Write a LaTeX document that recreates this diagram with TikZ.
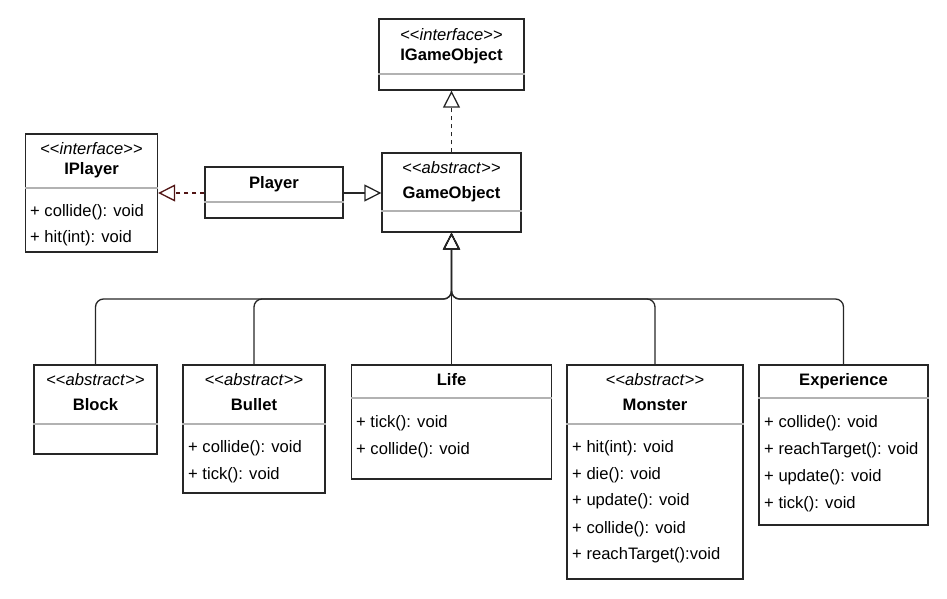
\documentclass[tikz,border=0pt]{standalone}
\usepackage{fontspec}
\setmainfont{Liberation Sans}
\usetikzlibrary{arrows.meta}
\newcommand\sttype[1]{<\kern0pt<\textit{#1}>\kern0pt>}
\definecolor{realcol}{RGB}{80,20,20}
\tikzset{
  cls/.style={draw=black!85, line width=1.3pt, inner sep=0pt},
  sep/.style={draw=black!30, line width=1.3pt},
  txt/.style={inner sep=0pt, yshift=-2pt, font=\fontsize{16.6}{20}\selectfont, text height=12pt, text depth=3.5pt},
  mem/.style={txt, anchor=west},
  cname/.style={txt, font=\fontsize{16.6}{20}\selectfont\bfseries},
  inherit/.style={draw=black!85, line width=1.3pt, -{Triangle[open, length=17pt, width=17pt]}},
  realize/.style={inherit, dashed, dash pattern=on 4pt off 4pt},
}
\begin{document}
\begin{tikzpicture}[x=1pt, y=-1pt]
   \useasboundingbox (0,0) rectangle (947,599);
   % top: interfaces and base class
   \node[cls, minimum width=145pt, minimum height=71pt] (igo) at (451.5,54.5) {};
   \draw[sep] (igo.west |- 0,74) -- (igo.east |- 0,74);
   \node[txt] (igo-st) at (451.5,34) {\sttype{interface}};
   \node[cname] (igo-n) at (451.5,54) {IGameObject};

   \node[cls, minimum width=132pt, minimum height=118pt] (iplayer) at (91.5,193) {};
   \draw[sep] (iplayer.west |- 0,188) -- (iplayer.east |- 0,188);
   \node[txt] (iplayer-st) at (91.5,148) {\sttype{interface}};
   \node[cname] (iplayer-n) at (91.5,168) {IPlayer};
   \node[mem] (iplayer-m1) at (30,210) {+ collide(): void};
   \node[mem] (iplayer-m2) at (30,236) {+ hit(int): void};

   \node[cls, minimum width=138pt, minimum height=51pt] (player) at (274,192.5) {};
   \draw[sep] (player.west |- 0,202) -- (player.east |- 0,202);
   \node[cname] (player-n) at (274,182) {Player};

   \node[cls, minimum width=139pt, minimum height=79pt] (go) at (451.5,192.5) {};
   \draw[sep] (go.west |- 0,211) -- (go.east |- 0,211);
   \node[txt] (go-st) at (451.5,167) {\sttype{abstract}};
   \node[cname] (go-n) at (451.5,192) {GameObject};

   % bottom: subclasses
   \node[cls, minimum width=123pt, minimum height=89pt] (block) at (95.5,409.5) {};
   \draw[sep] (block.west |- 0,424) -- (block.east |- 0,424);
   \node[txt] (block-st) at (95.5,379) {\sttype{abstract}};
   \node[cname] (block-n) at (95.5,404) {Block};

   \node[cls, minimum width=142pt, minimum height=128pt] (bullet) at (254,429) {};
   \draw[sep] (bullet.west |- 0,424) -- (bullet.east |- 0,424);
   \node[txt] (bullet-st) at (254,379) {\sttype{abstract}};
   \node[cname] (bullet-n) at (254,404) {Bullet};
   \node[mem] (bullet-m1) at (188,446) {+ collide(): void};
   \node[mem] (bullet-m2) at (188,473) {+ tick(): void};

   \node[cls, minimum width=200pt, minimum height=114pt] (life) at (451.5,422) {};
   \draw[sep] (life.west |- 0,398) -- (life.east |- 0,398);
   \node[cname] (life-n) at (451.5,379) {Life};
   \node[mem] (life-m1) at (356,421) {+ tick(): void};
   \node[mem] (life-m2) at (356,448) {+ collide(): void};

   \node[cls, minimum width=176pt, minimum height=214pt] (monster) at (655,472) {};
   \draw[sep] (monster.west |- 0,424) -- (monster.east |- 0,424);
   \node[txt] (monster-st) at (655,379) {\sttype{abstract}};
   \node[cname] (monster-n) at (655,404) {Monster};
   \node[mem] (monster-m1) at (572,446) {+ hit(int): void};
   \node[mem] (monster-m2) at (572,473) {+ die(): void};
   \node[mem] (monster-m3) at (572,499) {+ update(): void};
   \node[mem] (monster-m4) at (572,527) {+ collide(): void};
   \node[mem] (monster-m5) at (572,553) {+ reachTarget():void};

   \node[cls, minimum width=169pt, minimum height=160pt] (exp) at (843.5,445) {};
   \draw[sep] (exp.west |- 0,398) -- (exp.east |- 0,398);
   \node[cname] (exp-n) at (843.5,379) {Experience};
   \node[mem] (exp-m1) at (764,421) {+ collide(): void};
   \node[mem] (exp-m2) at (764,448) {+ reachTarget(): void};
   \node[mem] (exp-m3) at (764,475) {+ update(): void};
   \node[mem] (exp-m4) at (764,502) {+ tick(): void};

   % relations
   \draw[realize] (go.north) -- (igo.south);
   \draw[realize, draw=realcol] (player.west |- 0,193) -- (iplayer.east |- 0,193);
   \draw[inherit] (player.east |- 0,193) -- (go.west |- 0,193);
   \coordinate (split) at (451.5,299);
   \draw[inherit, rounded corners=8pt] (block.north) |- (split) -- (go.south);
   \draw[inherit, rounded corners=8pt] (bullet.north) |- (split) -- (go.south);
   \draw[inherit, rounded corners=8pt] (monster.north) |- (split) -- (go.south);
   \draw[inherit, rounded corners=8pt] (exp.north) |- (split) -- (go.south);
   \draw[inherit] (life.north) -- (go.south);
\end{tikzpicture}
\end{document}
